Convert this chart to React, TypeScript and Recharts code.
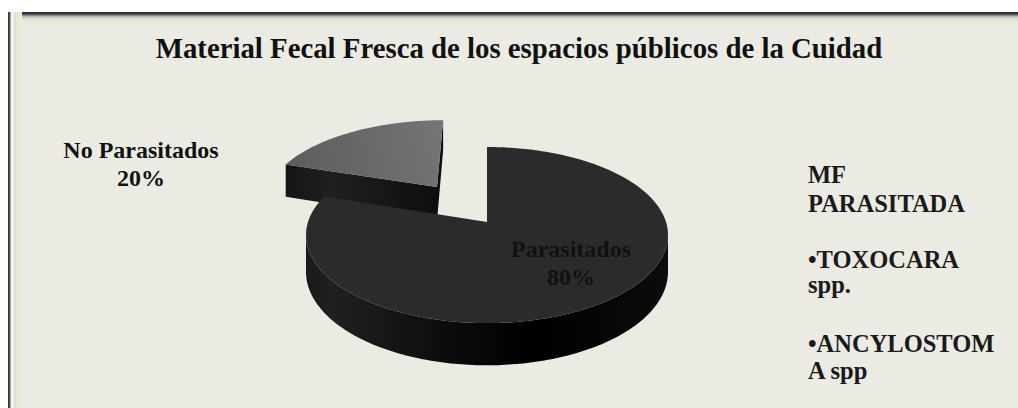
import { PieChart, Pie } from 'recharts';

const sliceNames = ['No Parasitados', 'Parasitados'];
const sliceValues = [20, 80];
const legendLines = ['MF', 'PARASITADA', '•TOXOCARA', 'spp.', '•ANCYLOSTOM', 'A spp'];
const legendBaselines = [183, 212, 268, 293, 352, 379];
const chartTitle = 'Material Fecal Fresca de los espacios públicos de la Cuidad';

const data = sliceNames.map((name, i) => ({ name, value: sliceValues[i] }));

const WIDTH = 1018;
const HEIGHT = 408;
const CX = 487;
const CY = 222;
const RADIUS = 179;

// tilted disc seen in perspective: squash y, and shrink things further back
const SQUASH = 0.481;
const PERSPECTIVE = -0.148;
const DEPTH = 36;

const EXPLODE: Record<string, [number, number]> = {
  'No Parasitados': [-0.297, -0.433],
  Parasitados: [0, 0],
};
const TOP_FILL: Record<string, string> = {
  'No Parasitados': 'url(#greyTop)',
  Parasitados: '#2b2b2b',
};
const LABEL_POS: Record<string, { x: number; y: number; size: number; fill: string }> = {
  'No Parasitados': { x: 141, y: 158, size: 24, fill: '#111' },
  Parasitados: { x: 571, y: 257, size: 24, fill: '#111' },
};

type Pt = [number, number, number];

function project(u: number, v: number): Pt {
  const w = 1 + PERSPECTIVE * v;
  return [(RADIUS * u) / w, (RADIUS * SQUASH * v) / w, w];
}

function outline(cx: number, cy: number, r: number, start: number, end: number, off: [number, number]) {
  const pts: Pt[] = [];
  const add = (u: number, v: number) => {
    const [x, y, w] = project(u + off[0], v + off[1]);
    pts.push([cx + (x * r) / RADIUS, cy + (y * r) / RADIUS, w]);
  };
  add(0, 0);
  const steps = Math.max(2, Math.ceil(Math.abs(end - start)));
  for (let i = 0; i <= steps; i++) {
    const a = ((start + ((end - start) * i) / steps) * Math.PI) / 180;
    add(Math.cos(a), -Math.sin(a));
  }
  return pts;
}

function f(n: number) {
  return n.toFixed(2);
}

function Slice3D(props: any) {
  const { cx, cy, outerRadius, startAngle, endAngle } = props;
  const name: string = props.name ?? props.payload?.name;
  const pts = outline(cx, cy, outerRadius, startAngle, endAngle, EXPLODE[name]);

  // only edges running right-to-left face the viewer
  let wall = '';
  pts.forEach((p, i) => {
    const q = pts[(i + 1) % pts.length];
    if (q[0] < p[0]) {
      wall += `M${f(p[0])} ${f(p[1])}L${f(q[0])} ${f(q[1])}L${f(q[0])} ${f(q[1] + DEPTH / q[2])}L${f(p[0])} ${f(p[1] + DEPTH / p[2])}Z`;
    }
  });
  const top = 'M' + pts.map((p) => `${f(p[0])} ${f(p[1])}`).join('L') + 'Z';

  return (
    <g>
      <path d={wall} fill="url(#sideWall)" />
      <path d={top} fill={TOP_FILL[name]} />
    </g>
  );
}

function SliceLabel(props: any) {
  const { name, value } = props;
  const pos = LABEL_POS[name];
  if (!pos) return null;
  return (
    <text
      x={pos.x}
      y={pos.y}
      textAnchor="middle"
      fontFamily="'Liberation Serif', serif"
      fontWeight="bold"
      fontSize={pos.size}
      fill={pos.fill}
    >
      <tspan x={pos.x}>{name}</tspan>
      <tspan x={pos.x} dy={28}>{`${value}%`}</tspan>
    </text>
  );
}

export default function App() {
  return (
    <div style={{ position: 'absolute', left: 0, top: 0, width: WIDTH, height: HEIGHT, background: '#fff', overflow: 'hidden' }}>
      <div
        style={{
          position: 'absolute',
          left: 8,
          top: 12,
          right: 0,
          bottom: 0,
          background: '#ebebe4',
        }}
      />
      {/* window-style frame along the top and left edges */}
      <div
        style={{
          position: 'absolute',
          left: 8,
          top: 12,
          right: 0,
          height: 14,
          background:
            'linear-gradient(to bottom, #2c2c30 0, #3a3a3e 2px, #a8a8a8 4px, #d6d6d0 6px, #e8ebd8 9px, #e8ebd8 12px, #ebebe4 14px)',
        }}
      />
      <div
        style={{
          position: 'absolute',
          left: 8,
          top: 12,
          bottom: 0,
          width: 14,
          background:
            'linear-gradient(to right, #333 0, #555 2px, #f4f4f4 3px, #f4f4f4 5px, #dcdcd4 7px, #e8ebd2 9px, #e8ebd2 12px, #ebebe4 14px)',
        }}
      />
      <div style={{ position: 'absolute', left: 0, top: 0 }}>
        <PieChart width={WIDTH} height={HEIGHT} margin={{ top: 0, right: 0, bottom: 0, left: 0 }}>
          <defs>
            <linearGradient id="greyTop" gradientUnits="userSpaceOnUse" x1="285" y1="165" x2="437" y2="125">
              <stop offset="0" stopColor="#5c5c5c" />
              <stop offset="1" stopColor="#747474" />
            </linearGradient>
            <linearGradient id="sideWall" gradientUnits="userSpaceOnUse" x1="285" y1="0" x2="669" y2="0">
              <stop offset="0" stopColor="#141414" />
              <stop offset="0.12" stopColor="#202020" />
              <stop offset="0.45" stopColor="#0a0a0a" />
              <stop offset="0.65" stopColor="#000000" />
              <stop offset="1" stopColor="#0c0c0c" />
            </linearGradient>
          </defs>
          <text
            x={519}
            y={58}
            textAnchor="middle"
            fontFamily="'Liberation Serif', serif"
            fontWeight="bold"
            fontSize={28.8}
            fill="#111"
          >
            {chartTitle}
          </text>
          <Pie
            data={data}
            dataKey="value"
            nameKey="name"
            cx={CX}
            cy={CY}
            outerRadius={RADIUS}
            startAngle={162}
            endAngle={-198}
            stroke="none"
            shape={Slice3D}
            label={SliceLabel}
            labelLine={false}
            isAnimationActive={false}
          />
          {legendLines.map((line, i) => (
            <text
              key={line}
              x={808}
              y={legendBaselines[i]}
              fontFamily="'Liberation Serif', serif"
              fontWeight="bold"
              fontSize={24.5}
              fill="#1a1a1a"
            >
              {line}
            </text>
          ))}
        </PieChart>
      </div>
    </div>
  );
}
